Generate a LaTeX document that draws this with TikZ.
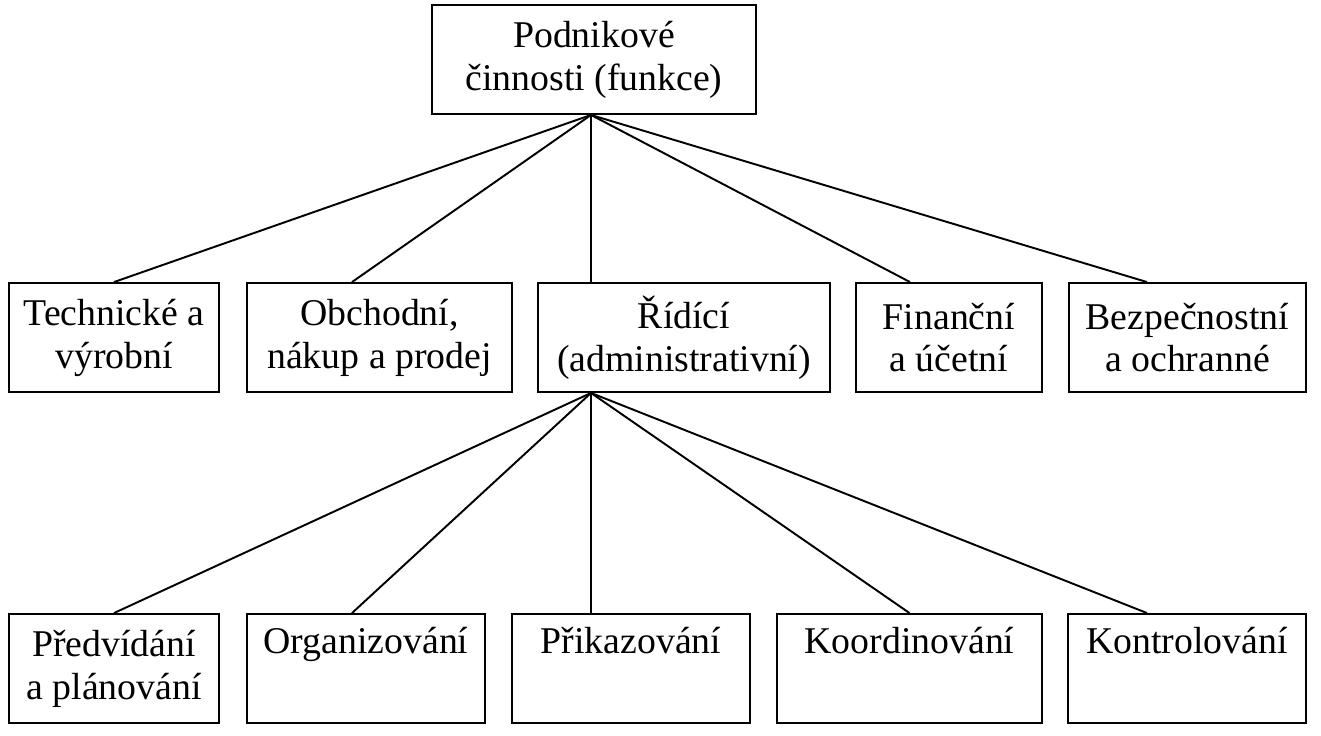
\documentclass[tikz,border=0pt]{standalone}
\usepackage{fontspec}
\setmainfont{Liberation Serif}
\begin{document}
\begin{tikzpicture}[x=0.02cm,y=-0.02cm,line width=1.1pt,
  box/.style={draw, rectangle, align=center, inner sep=0pt, minimum height=2.18cm,
    font=\fontsize{21.5}{24.4}\selectfont}]
\useasboundingbox (0,0) rectangle (1321,735);
% top
\node[box, minimum width=6.48cm] (pc) at (594,59.5) {Podnikové\\činnosti (funkce)};
% row 2
\node[box, minimum width=4.2cm] (tv) at (114,337.5) {Technické a\\výrobní};
\node[box, minimum width=5.3cm] (ob) at (379.5,337.5) {Obchodní,\\nákup a prodej};
\node[box, minimum width=5.84cm] (ri) at (684,337.5) {Řídící\\(administrativní)};
\node[box, minimum width=3.72cm] (fu) at (949,337.5) {Finanční\\a účetní};
\node[box, minimum width=4.74cm] (bo) at (1187.5,337.5) {Bezpečnostní\\a ochranné};
% row 3
\node[box, minimum width=4.2cm] (pp) at (114,668.5) {Předvídání\\a plánování};
\node[box, minimum width=4.76cm] (or) at (366,668.5) {Organizování\\\strut};
\node[box, minimum width=4.76cm] (pr) at (631,668.5) {Přikazování\\\strut};
\node[box, minimum width=5.3cm] (ko) at (909.5,668.5) {Koordinování\\\strut};
\node[box, minimum width=4.76cm] (kn) at (1187,668.5) {Kontrolování\\\strut};
\draw ([xshift=-0.06cm]pc.south) -- (tv.north);
\draw ([xshift=-0.06cm]pc.south) -- ([xshift=-0.55cm]ob.north);
\draw ([xshift=-0.06cm]pc.south) -- ([xshift=-1.86cm]ri.north);
\draw ([xshift=-0.06cm]pc.south) -- ([xshift=-0.78cm]fu.north);
\draw ([xshift=-0.06cm]pc.south) -- ([xshift=-0.81cm]bo.north);
\draw ([xshift=-1.86cm]ri.south) -- (pp.north);
\draw ([xshift=-1.86cm]ri.south) -- ([xshift=-0.28cm]or.north);
\draw ([xshift=-1.86cm]ri.south) -- ([xshift=-0.8cm]pr.north);
\draw ([xshift=-1.86cm]ri.south) -- (ko.north);
\draw ([xshift=-1.86cm]ri.south) -- ([xshift=-0.8cm]kn.north);
\end{tikzpicture}
\end{document}
